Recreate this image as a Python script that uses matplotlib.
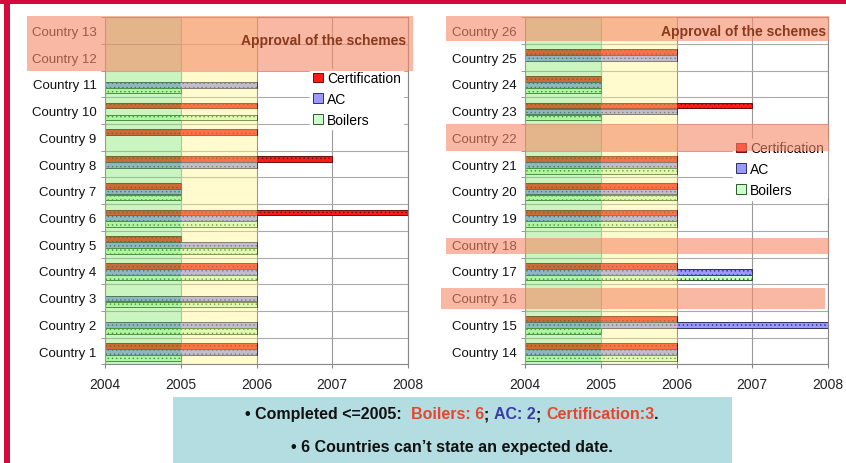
import numpy as np
import matplotlib.pyplot as plt
from matplotlib.patches import Rectangle
from matplotlib import transforms

plt.rcParams['font.family'] = ['Liberation Sans', 'DejaVu Sans']
plt.rcParams['hatch.linewidth'] = 0.5

nan = np.nan

# left panel, Country 1 .. Country 13 (bottom to top)
left_labels = ['Country %d' % i for i in range(1, 14)]
left_cert = [2006, nan, nan, 2006, 2005, 2008, 2005, 2007, 2006, 2006, nan, nan, nan]
left_ac = [2006, 2006, 2006, 2006, 2006, 2006, 2005, 2006, nan, nan, 2006, nan, nan]
left_boil = [2005, 2006, 2006, 2006, 2006, 2006, 2005, nan, nan, 2006, 2005, nan, nan]

# right panel, Country 14 .. Country 26
right_labels = ['Country %d' % i for i in range(14, 27)]
right_cert = [2006, 2006, nan, 2006, nan, 2006, 2006, 2006, nan, 2007, 2005, 2006, nan]
right_ac = [2006, 2008, nan, 2007, nan, 2006, 2006, 2006, nan, 2006, 2005, 2006, nan]
right_boil = [2006, 2005, nan, 2007, nan, 2006, 2006, 2006, nan, 2005, 2005, nan, nan]

years = [2004, 2005, 2006, 2007, 2008]
series_names = ['Certification', 'AC', 'Boilers']
series_colors = ['#ff1a1a', '#9999ff', '#ccffcc']
series_edges = ['#6a1010', '#303060', '#2a5a2a']

# highlighted rows (no date): x in axes fraction, y in row units
left_bands = [(-0.257, 1.017, 10.49, 12.55)]
right_bands = [(-0.261, 1.003, 11.61, 12.55),
               (-0.261, 1.003, 7.49, 8.50),
               (-0.261, 1.003, 3.63, 4.23),
               (-0.277, 0.990, 1.57, 2.36)]


def draw_panel(ax, labels, cert, ac, boil, bands, title_y, leg_anchor):
    y = np.arange(len(labels))
    offsets = [0.19, -0.03, -0.25]
    for vals, off, c, ec, name in zip([cert, ac, boil], offsets, series_colors,
                                      series_edges, series_names):
        vals = np.array(vals, dtype=float)
        ax.barh(y + off, vals - years[0], left=years[0], height=0.21,
                color=c, edgecolor=ec, linewidth=0.7, hatch='....',
                label=name, zorder=2)

    ax.axvspan(2004, 2005, color='#7fe662', alpha=0.4, lw=0, zorder=3)
    ax.axvspan(2005, 2006, color='#fff589', alpha=0.4, lw=0, zorder=3)

    ax.set_xlim(2004, 2008)
    ax.set_ylim(-0.5, len(labels) - 0.5)
    ax.set_xticks(years)
    ax.set_xticklabels([str(v) for v in years], fontsize=10, color='#222222')
    ax.set_yticks(y)
    ax.set_yticklabels(labels, fontsize=9.5, color='#111111')
    ax.set_yticks(np.arange(-0.5, len(labels)), minor=True)
    ax.tick_params(axis='y', which='major', length=0, pad=6)
    ax.tick_params(axis='y', which='minor', length=3, color='#888888')
    ax.tick_params(axis='x', length=3, color='#888888', pad=6)
    ax.grid(axis='x', color='#999999', lw=0.8, zorder=1)
    ax.grid(axis='y', which='minor', color='#aaaaaa', lw=0.8, zorder=1)
    ax.set_axisbelow(True)
    for s in ax.spines.values():
        s.set_color('#888888')
        s.set_linewidth(0.8)

    handles, names = ax.get_legend_handles_labels()
    leg = ax.legend(handles, names, loc='upper right', bbox_to_anchor=leg_anchor,
                    frameon=True, fontsize=10, handlelength=0.7, handleheight=0.7,
                    handletextpad=0.3, labelspacing=0.48, borderpad=0.2,
                    borderaxespad=0)
    leg.get_frame().set_edgecolor('white')
    leg.get_frame().set_alpha(1)
    for h in leg.legend_handles:
        h.set_hatch(None)
    leg.set_zorder(5)

    trans = transforms.blended_transform_factory(ax.transAxes, ax.transData)
    for x0, x1, y0, y1 in bands:
        ax.add_patch(Rectangle((x0, y0), x1 - x0, y1 - y0, transform=trans,
                               facecolor='#f58a68', alpha=0.6, lw=0,
                               clip_on=False, zorder=6))
    ax.text(2007.98, title_y, 'Approval of the schemes', ha='right', va='center',
            fontsize=10, fontweight='bold', color='#8a3a1c', zorder=7)


fig = plt.figure(figsize=(8.46, 4.64), dpi=100)
ax1 = fig.add_axes([0.1241, 0.2125, 0.3582, 0.7483])
ax2 = fig.add_axes([0.6206, 0.2125, 0.3582, 0.7483])

draw_panel(ax1, left_labels, left_cert, left_ac, left_boil, left_bands, 11.65, (0.985, 0.852))
draw_panel(ax2, right_labels, right_cert, right_ac, right_boil, right_bands, 12.0, (0.995, 0.65))

# red frame
fig.patches.append(Rectangle((0, 1 - 5 / 464), 1, 5 / 464, transform=fig.transFigure,
                             facecolor='#d40a3c', lw=0))
fig.patches.append(Rectangle((4 / 846, 0), 6 / 846, 1, transform=fig.transFigure,
                             facecolor='#d40a3c', lw=0))

# summary box
fig.patches.append(Rectangle((173 / 846, 0), (732 - 173) / 846, 66 / 464,
                             transform=fig.transFigure, facecolor='#b4dde2', lw=0))

renderer = fig.canvas.get_renderer()


def piece_width(s, **kw):
    t1 = fig.text(0, 0, 'x' + s + 'x', **kw)
    t2 = fig.text(0, 0, 'xx', **kw)
    w = t1.get_window_extent(renderer).width - t2.get_window_extent(renderer).width
    t1.remove()
    t2.remove()
    return w / fig.bbox.width


line1 = ['\u2022 Completed <=2005:  ', 'Boilers: 6', '; ', 'AC: 2', '; ',
         'Certification:3', '.']
line1_colors = ['#111111', '#e8452c', '#111111', '#3a3aa8', '#111111', '#e8452c', '#111111']
kw = dict(fontsize=11.5, fontweight='bold')
widths = [piece_width(s, **kw) for s in line1]
x = 452 / 846 - sum(widths) / 2
for s, c, w in zip(line1, line1_colors, widths):
    fig.text(x, 1 - 415 / 464, s, color=c, ha='left', va='center', **kw)
    x += w

fig.text(452 / 846, 1 - 448 / 464, '\u2022 6 Countries can\u2019t state an expected date.',
         ha='center', va='center', color='#111111', **kw)

fig.savefig('out.png', dpi=100)
